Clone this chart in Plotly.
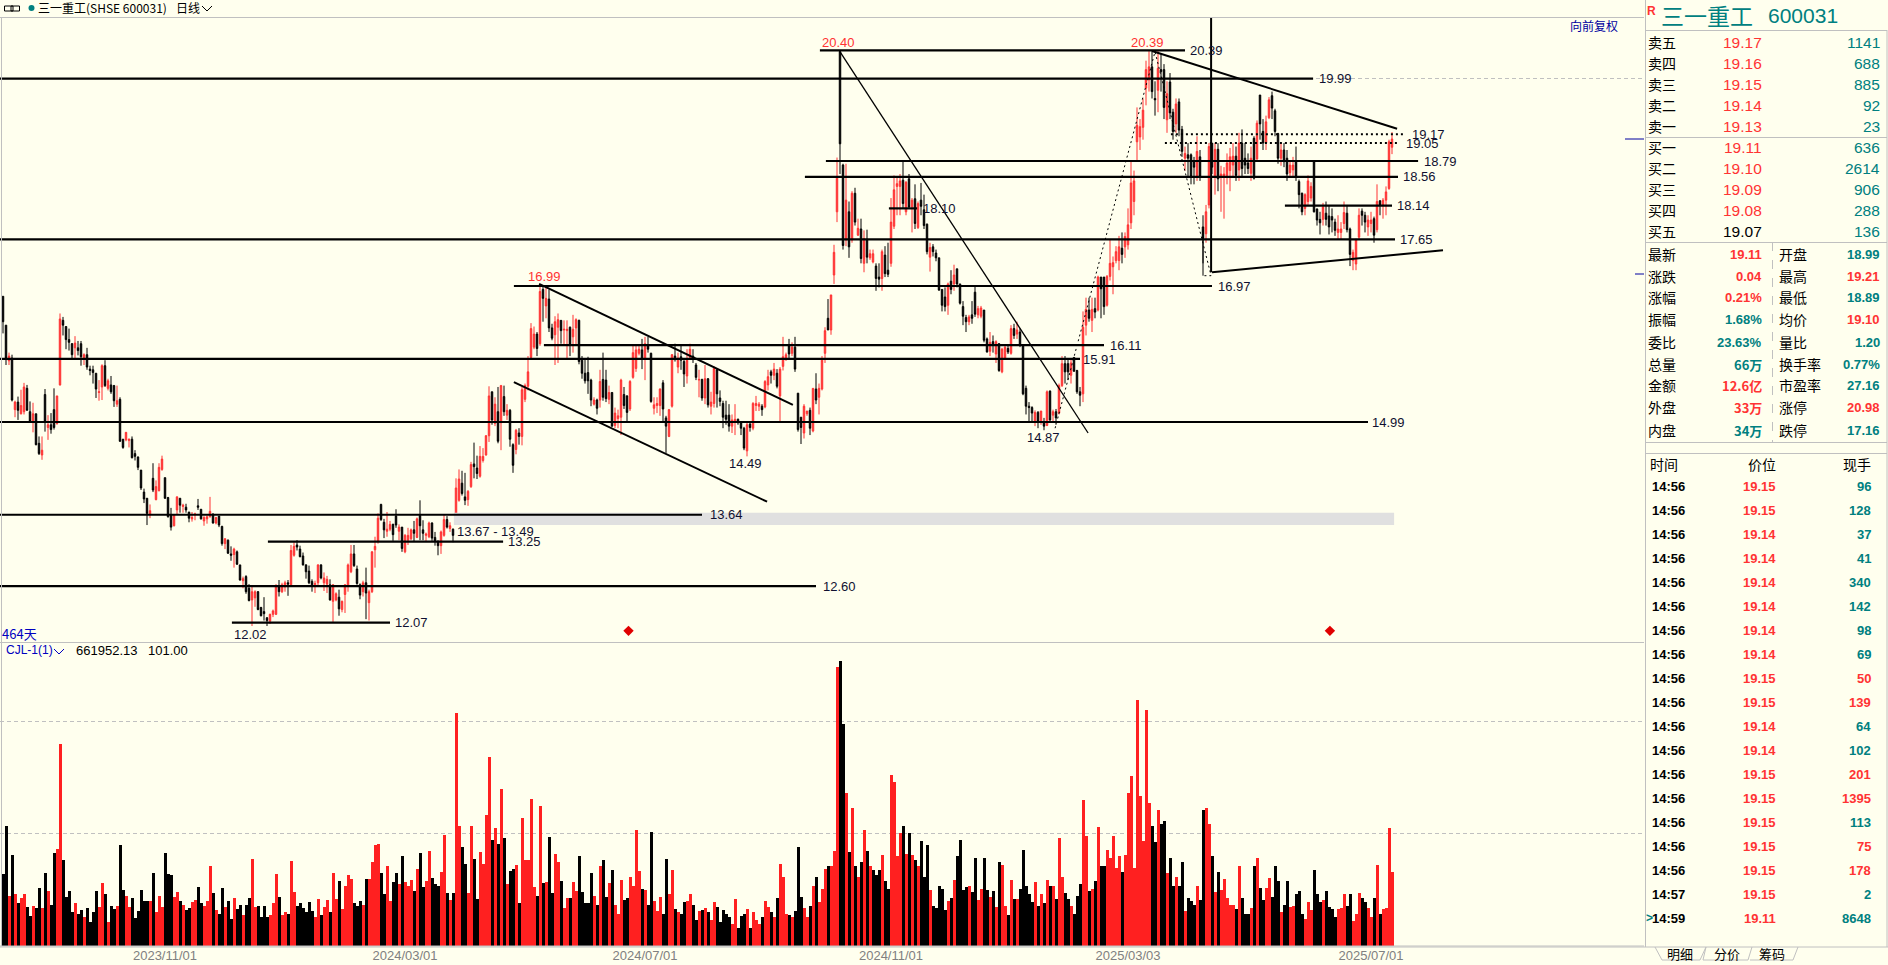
import plotly.graph_objects as go

W, H = 1888, 965
BG = "#FFFFEE"
RED = "#FF3333"
TEAL = "#008080"
GRAY = "#C0C0C0"
CJK = "Noto Sans CJK SC"
LAT = "Liberation Sans"

opens = [
16.82,16.40,15.88,15.92,15.17,15.28,15.11,15.14,15.48,15.14,14.99,15.11,14.68,14.51,15.39,14.91,14.95,15.17,14.97,15.53,
16.47,16.38,16.19,16.13,16.07,16.07,16.13,15.92,15.97,15.76,15.75,15.70,15.42,15.50,15.81,15.48,15.53,15.52,15.25,15.32,
14.74,14.73,14.72,14.74,14.53,14.48,14.29,13.97,13.88,13.64,14.17,13.86,13.99,14.30,14.18,13.89,13.64,13.48,13.71,13.88,
13.76,13.75,13.68,13.58,13.64,13.77,13.72,13.55,13.58,13.61,13.65,13.52,13.62,13.47,13.22,13.27,13.07,13.06,13.10,12.91,
12.68,12.74,12.57,12.40,12.43,12.52,12.29,12.23,12.14,12.09,12.19,12.19,12.59,12.52,12.59,12.65,12.62,13.05,13.20,13.14,
13.04,12.91,12.82,12.67,12.62,12.65,12.91,12.65,12.63,12.62,12.38,12.40,12.44,12.26,12.48,12.60,12.81,13.07,12.85,12.62,
12.52,12.65,12.36,12.52,13.13,13.26,13.79,13.53,13.40,13.43,13.50,13.62,13.40,13.46,13.10,13.27,13.29,13.42,13.31,13.63,
13.42,13.34,13.32,13.52,13.31,13.25,13.19,13.34,13.57,13.44,13.43,13.65,13.85,14.10,13.90,13.86,14.05,14.38,14.32,14.20,
14.43,14.51,14.79,15.43,14.97,15.14,14.98,15.36,15.09,15.16,14.66,14.59,14.83,14.78,15.32,15.51,15.93,16.08,16.27,16.13,
16.92,16.68,16.78,16.36,16.26,16.37,16.47,16.33,16.32,16.37,16.23,16.36,16.47,15.89,15.70,15.71,15.60,15.25,15.31,15.31,
15.61,15.60,15.32,15.42,14.94,15.04,15.06,15.39,15.37,15.18,15.64,15.77,15.99,16.04,15.90,16.11,15.99,15.19,15.23,15.23,
15.56,15.05,14.78,15.22,15.95,15.79,15.94,15.87,15.66,15.93,15.95,15.82,15.60,15.61,15.34,15.62,15.22,15.26,15.75,15.34,
15.26,15.09,15.09,14.93,15.00,15.03,14.98,14.90,14.57,14.96,14.90,15.23,15.22,15.22,15.21,15.53,15.72,15.67,15.70,15.37,
15.80,15.92,16.10,15.99,16.08,15.41,15.06,14.83,15.11,15.16,14.86,15.47,15.35,15.47,15.99,16.50,16.33,17.13,18.05,20.38,
18.73,17.64,18.05,17.64,18.32,17.71,17.80,17.30,17.65,17.38,17.32,17.26,17.10,17.08,17.42,17.20,17.30,17.84,18.42,18.42,
18.51,18.05,18.53,18.12,18.24,17.82,18.22,18.08,17.87,17.39,17.54,17.45,17.38,16.92,16.81,16.69,17.04,17.00,17.22,17.00,
16.67,16.51,16.45,16.55,16.88,16.55,16.53,16.62,16.20,16.02,16.16,15.98,16.13,15.72,15.92,16.06,15.99,16.35,16.27,16.30,
16.11,15.48,15.22,15.20,15.00,15.13,15.00,14.99,14.94,15.44,15.09,15.14,15.12,15.52,15.84,15.84,15.67,15.93,15.74,15.43,
15.40,16.40,16.62,16.47,16.64,16.62,17.10,17.10,16.69,17.11,17.25,17.34,17.34,17.52,17.54,17.57,17.89,18.20,19.07,19.14,
19.28,19.85,19.97,20.16,19.70,19.82,20.12,20.12,19.39,19.94,19.50,19.33,19.65,19.25,18.83,18.88,18.88,18.78,18.55,18.85,
17.83,17.73,18.15,19.05,18.56,18.96,18.55,18.56,18.58,18.65,18.73,18.86,18.66,19.05,18.83,18.76,18.61,19.12,18.82,19.75,
19.22,19.05,19.42,19.74,19.52,19.19,18.83,18.95,18.83,18.62,18.66,18.78,18.49,18.32,18.10,18.20,18.25,18.78,18.09,17.94,
17.94,18.03,17.99,17.98,17.90,17.75,17.75,17.88,18.03,17.80,17.34,17.29,17.68,18.06,18.00,17.83,17.88,17.95,17.79,18.21,
18.15,18.22,18.39,18.99]

closes = [
16.45,15.92,15.95,15.31,15.28,15.16,15.23,15.50,15.16,15.00,15.11,14.66,14.53,14.58,15.00,14.95,14.88,14.91,15.37,16.49,
16.40,16.19,16.15,15.97,16.14,16.03,15.94,15.97,15.79,15.74,15.71,15.47,15.43,15.81,15.52,15.59,15.43,15.30,15.30,14.71,
14.62,14.84,14.74,14.47,14.49,14.33,14.03,13.87,13.66,13.70,14.00,14.05,14.33,14.45,13.88,13.61,13.46,13.64,13.90,13.78,
13.78,13.71,13.59,13.60,13.65,13.75,13.58,13.60,13.61,13.69,13.52,13.60,13.49,13.22,13.29,13.08,13.05,13.14,12.92,12.69,
12.71,12.52,12.39,12.52,12.52,12.26,12.17,12.20,12.10,12.19,12.24,12.60,12.52,12.62,12.65,12.63,13.12,13.18,13.17,13.03,
12.91,12.81,12.65,12.62,12.64,12.91,12.72,12.72,12.70,12.40,12.62,12.49,12.27,12.38,12.62,12.91,13.07,12.90,12.64,12.47,
12.65,12.50,12.52,13.10,13.18,13.59,13.57,13.42,13.43,13.50,13.35,13.49,13.46,13.15,13.34,13.34,13.42,13.37,13.58,13.48,
13.37,13.36,13.52,13.30,13.26,13.19,13.39,13.57,13.46,13.48,13.34,14.03,14.16,13.95,13.85,13.98,14.37,14.34,14.24,14.49,
14.49,14.79,15.37,15.02,15.25,14.71,15.52,15.14,15.16,14.74,14.36,14.87,14.78,15.46,15.52,15.72,16.35,16.27,16.06,16.89,
16.79,16.79,16.36,16.21,16.45,16.48,16.32,16.34,16.34,16.11,16.34,16.48,15.87,15.70,15.59,15.59,15.31,15.31,15.19,15.58,
15.35,15.33,15.42,14.93,15.12,15.08,15.60,15.23,15.13,15.58,16.00,16.04,16.05,15.90,16.13,16.05,15.29,15.24,15.26,15.47,
15.18,14.93,15.17,15.97,15.90,15.92,15.89,15.69,15.89,16.05,15.92,15.64,15.61,15.34,15.62,15.24,15.28,15.77,15.40,15.29,
15.06,15.03,14.93,15.02,15.03,14.98,14.90,14.61,14.95,14.91,15.26,15.26,15.25,15.17,15.58,15.65,15.67,15.76,15.51,15.76,
15.94,15.97,15.98,16.08,15.76,14.88,14.91,15.22,15.15,14.90,15.48,15.31,15.48,15.89,16.32,16.33,16.84,17.46,18.54,19.04,
17.56,18.22,17.54,18.32,17.90,17.81,17.37,17.66,17.39,17.44,17.44,17.08,17.07,17.47,17.15,17.14,17.90,18.37,18.46,18.50,
18.17,18.48,18.12,18.22,17.88,18.17,18.13,17.85,17.47,17.53,17.47,17.38,16.91,16.69,16.67,17.00,16.92,17.13,17.00,16.72,
16.53,16.45,16.52,16.50,16.56,16.64,16.65,16.18,16.01,16.15,16.11,16.16,15.74,16.05,16.08,16.01,16.35,16.25,16.33,16.11,
15.40,15.22,15.20,15.12,15.13,14.99,15.15,14.93,15.43,15.02,15.14,15.05,15.52,15.84,15.72,15.72,15.85,15.73,15.43,15.38,
16.37,16.63,16.50,16.63,16.59,17.10,16.93,16.67,17.11,17.30,17.31,17.47,17.54,17.43,17.69,17.86,18.47,18.50,19.31,19.29,
19.53,20.12,20.16,19.80,19.68,20.14,20.09,19.57,19.77,19.49,19.22,19.62,19.24,18.93,18.90,18.83,18.56,18.70,18.93,18.56,
17.66,18.05,19.00,18.70,18.96,18.53,18.60,18.60,18.76,18.85,18.86,18.58,19.05,18.68,18.73,18.68,18.83,18.54,19.34,19.33,
19.05,19.36,19.68,19.56,19.22,18.83,18.95,18.78,18.60,18.73,18.73,18.56,18.30,18.05,18.30,18.50,18.42,18.05,17.93,17.89,
18.12,17.94,17.83,17.93,17.78,17.80,17.80,18.04,17.79,17.43,17.46,17.64,18.00,18.00,17.90,17.93,17.93,17.71,18.20,18.15,
18.22,18.34,19.07,19.11]

highs = [
16.82,16.40,16.00,15.97,15.30,15.36,15.46,15.56,15.53,15.29,15.27,15.11,14.78,14.78,15.47,15.09,15.12,15.48,15.37,16.57,
16.52,16.38,16.35,16.14,16.24,16.17,16.17,15.99,16.07,15.81,15.81,15.70,15.60,15.83,15.89,15.62,15.66,15.53,15.52,15.35,
14.74,14.84,14.75,14.78,14.58,14.49,14.29,14.02,13.88,13.79,14.39,14.14,14.39,14.50,14.18,13.90,13.74,13.64,13.91,13.88,
13.80,13.80,13.68,13.68,13.67,13.87,13.72,13.62,13.63,13.90,13.66,13.61,13.62,13.48,13.30,13.28,13.18,13.16,13.12,12.91,
12.74,12.76,12.63,12.60,12.54,12.53,12.30,12.44,12.15,12.20,12.26,12.63,12.69,12.65,12.68,12.69,13.20,13.24,13.27,13.19,
13.09,12.92,12.90,12.70,12.68,12.92,12.92,12.80,12.75,12.70,12.63,12.51,12.55,12.39,12.63,12.93,13.20,13.20,12.90,12.64,
12.68,12.87,12.55,13.11,13.32,13.66,13.80,13.58,13.68,13.55,13.51,13.72,13.50,13.46,13.36,13.45,13.44,13.55,13.60,13.85,
13.56,13.38,13.54,13.53,13.39,13.27,13.41,13.65,13.62,13.53,13.44,14.17,14.30,14.28,14.25,14.00,14.41,14.69,14.50,14.64,
14.61,14.80,15.51,15.43,15.35,15.50,15.53,15.52,15.25,15.18,14.68,14.89,14.90,15.50,15.55,15.95,16.43,16.38,16.30,16.99,
16.98,16.96,16.92,16.42,16.53,16.57,16.47,16.47,16.47,16.38,16.55,16.50,16.48,15.95,15.91,15.94,15.62,15.35,15.33,15.75,
16.00,15.75,15.52,15.42,15.20,15.17,15.62,15.50,15.38,15.60,16.12,16.10,16.12,16.20,16.23,16.23,16.00,15.35,15.35,15.48,
15.60,15.08,15.18,15.98,16.13,16.00,16.10,15.90,16.05,16.13,16.05,15.85,15.75,15.62,15.82,15.63,15.43,15.80,15.76,15.45,
15.30,15.30,15.25,15.10,15.25,15.04,15.00,14.92,14.98,15.00,15.28,15.37,15.28,15.25,15.60,15.75,15.75,15.85,15.76,15.79,
16.23,16.00,16.20,16.15,16.23,15.41,15.06,15.25,15.15,15.20,15.48,15.70,15.55,15.95,16.37,16.78,16.84,17.57,18.84,20.40,
18.75,18.75,18.20,18.35,18.40,17.95,17.95,17.78,17.79,17.50,17.50,17.30,17.30,17.50,17.55,17.60,18.25,18.58,18.55,18.60,
18.79,18.50,18.60,18.25,18.45,18.20,18.47,18.30,17.88,17.60,17.58,17.50,17.38,16.92,16.95,17.02,17.20,17.28,17.22,17.00,
16.75,16.55,16.55,16.75,16.97,16.68,16.68,16.62,16.22,16.30,16.25,16.18,16.14,16.07,16.10,16.10,16.40,16.42,16.45,16.35,
16.11,15.52,15.28,15.22,15.16,15.15,15.15,15.05,15.45,15.45,15.17,15.18,15.55,15.95,15.95,15.90,15.92,15.93,15.75,15.50,
16.60,16.80,16.80,16.80,16.80,17.12,17.10,17.10,17.13,17.65,17.40,17.55,17.70,17.75,17.75,18.10,18.80,18.65,19.57,19.40,
19.70,20.25,20.39,20.39,19.95,20.39,20.36,20.20,19.95,20.07,19.55,19.70,19.70,19.30,19.00,19.05,18.90,18.85,19.15,18.95,
18.00,18.15,19.05,19.05,19.05,19.05,18.72,18.70,18.90,18.98,19.05,19.00,19.20,19.25,19.05,18.90,19.00,19.15,19.38,19.75,
19.40,19.45,19.72,19.80,19.55,19.20,19.05,19.05,18.95,18.80,18.85,19.00,18.52,18.33,18.32,18.58,18.48,18.78,18.10,18.05,
18.18,18.20,18.15,18.10,17.95,18.00,17.90,18.20,18.15,17.82,17.50,17.66,18.10,18.10,18.05,18.00,18.05,17.98,18.45,18.22,
18.25,18.42,19.10,19.21]

lows = [
16.28,15.82,15.82,15.29,15.06,15.02,15.10,15.10,15.16,14.98,14.84,14.65,14.51,14.44,14.85,14.73,14.82,14.88,14.95,15.52,
16.25,16.05,16.03,15.92,15.92,15.96,15.81,15.82,15.75,15.67,15.55,15.34,15.30,15.31,15.50,15.45,15.40,15.21,15.21,14.70,
14.60,14.71,14.62,14.46,14.43,14.29,14.00,13.81,13.49,13.59,13.97,13.85,13.98,14.28,13.87,13.60,13.41,13.47,13.64,13.67,
13.67,13.67,13.53,13.54,13.56,13.71,13.57,13.48,13.51,13.60,13.51,13.50,13.46,13.19,13.14,13.07,12.97,12.87,12.91,12.68,
12.57,12.49,12.38,12.02,12.30,12.25,12.16,12.10,12.02,12.05,12.15,12.18,12.45,12.50,12.52,12.46,12.60,13.03,13.12,13.02,
12.90,12.71,12.63,12.52,12.50,12.60,12.70,12.53,12.50,12.39,12.08,12.38,12.17,12.22,12.21,12.52,12.79,12.88,12.62,12.41,
12.45,12.12,12.10,12.50,12.87,13.22,13.55,13.30,13.32,13.40,13.26,13.45,13.27,13.10,13.08,13.20,13.27,13.25,13.30,13.27,
13.27,13.25,13.30,13.26,13.19,13.05,13.07,13.32,13.44,13.39,13.24,13.62,13.83,13.92,13.78,13.77,14.03,14.17,14.16,14.18,
14.40,14.50,14.70,14.95,14.93,14.68,14.58,15.08,15.02,14.63,14.25,14.52,14.66,14.65,15.28,15.45,15.90,16.05,15.95,16.10,
16.45,16.50,16.30,16.18,15.82,15.85,16.13,16.10,15.90,15.95,16.00,16.12,15.83,15.62,15.55,15.40,15.22,15.23,15.10,15.20,
15.30,15.28,15.25,14.92,14.90,14.90,14.80,15.18,15.00,15.15,15.62,15.72,15.96,15.76,15.60,16.00,15.27,15.10,15.12,15.08,
15.00,14.54,14.77,15.20,15.87,15.70,15.75,15.50,15.55,15.90,15.85,15.60,15.35,15.30,15.25,15.20,15.10,15.20,15.20,15.22,
14.90,14.95,14.85,14.83,14.80,14.95,14.80,14.58,14.49,14.85,14.87,15.15,15.15,15.08,15.19,15.45,15.55,15.60,15.48,14.99,
15.74,15.88,15.90,15.95,15.72,14.85,14.67,14.75,15.08,14.80,14.84,15.25,15.10,15.45,15.85,16.33,16.26,17.00,17.90,18.60,
17.50,17.55,17.38,17.60,17.85,17.70,17.30,17.17,17.30,17.35,17.30,16.90,16.95,16.90,17.10,17.10,17.25,17.80,18.00,18.00,
18.10,18.00,18.10,17.75,17.80,17.80,18.00,17.80,17.43,17.18,17.40,17.33,16.90,16.60,16.60,16.55,16.85,16.90,16.95,16.70,
16.40,16.30,16.40,16.42,16.52,16.50,16.50,16.15,16.00,15.95,16.00,15.85,15.72,15.70,15.90,15.98,15.97,16.20,16.20,16.08,
15.38,15.10,15.00,15.00,14.93,14.90,14.95,14.87,14.93,15.00,15.00,14.95,15.10,15.50,15.55,15.60,15.55,15.72,15.40,15.22,
15.28,16.25,16.45,16.30,16.50,16.60,16.50,16.55,16.67,17.05,16.85,17.30,17.20,17.30,17.38,17.50,17.80,18.00,18.80,18.95,
19.10,19.60,19.80,19.70,19.45,19.50,19.80,19.40,19.20,19.40,19.10,19.20,19.15,18.85,18.65,18.55,18.45,18.45,18.50,18.50,
17.30,17.60,18.10,18.60,18.30,18.35,18.05,17.95,18.45,18.35,18.55,18.50,18.50,18.55,18.60,18.60,18.50,18.52,18.80,19.10,
18.95,18.95,19.40,19.40,19.15,18.75,18.72,18.70,18.50,18.55,18.55,18.50,18.10,18.00,18.00,18.15,18.20,18.04,17.85,17.72,
17.85,17.85,17.72,17.75,17.70,17.65,17.65,17.80,17.75,17.26,17.20,17.20,17.65,17.85,17.75,17.70,17.75,17.60,17.75,18.00,
17.95,18.00,18.37,18.89]

# volume, in units of 10,000 lots
volumes = [
64,107,45,81,46,38,43,46,35,27,36,34,52,34,65,49,37,83,87,180,
77,44,49,30,38,29,32,26,34,21,30,49,35,56,46,21,36,33,36,90,
50,45,35,43,25,31,50,40,40,40,65,30,45,35,83,64,63,44,48,40,
37,32,34,39,41,53,38,36,40,71,47,32,29,52,35,40,24,43,33,37,
28,37,43,78,35,36,26,36,26,28,38,64,44,28,30,29,76,48,36,38,
34,30,39,31,26,42,28,35,41,30,65,42,58,33,54,63,60,38,36,40,
37,60,60,75,90,91,65,46,71,40,57,65,55,80,57,54,59,49,69,83,
53,58,85,61,55,54,66,99,47,41,47,208,107,88,73,47,107,78,42,84,
73,117,169,95,105,91,140,96,55,67,69,72,38,114,77,77,131,53,45,125,
56,57,97,47,82,75,58,34,43,43,57,49,80,48,38,38,65,45,37,71,
77,44,56,68,37,29,59,41,43,62,54,104,67,51,50,37,102,40,31,44,
29,78,46,68,33,30,29,39,40,46,37,23,31,32,34,30,23,39,35,21,
32,29,26,20,42,16,27,29,33,16,30,23,20,26,40,35,30,26,43,73,
62,29,28,26,31,88,44,34,26,36,54,62,39,51,69,71,71,85,249,254,
198,137,84,123,71,62,75,104,85,71,68,63,68,81,58,51,153,146,80,101,
107,82,101,81,77,71,94,62,90,50,36,34,54,51,32,40,43,59,80,95,
50,53,54,48,79,41,51,79,50,44,49,35,75,72,36,28,59,42,42,51,
86,54,46,39,57,36,46,38,59,54,54,42,96,62,47,42,36,29,45,55,
130,98,49,51,58,106,71,71,86,79,98,70,80,66,81,137,152,70,220,134,
94,211,128,107,93,121,109,112,65,79,54,62,54,75,31,43,40,37,54,41,
121,123,109,80,48,66,50,60,43,37,37,33,71,43,29,29,34,71,79,52,
41,52,61,44,71,58,30,37,58,35,36,46,49,29,24,39,32,68,46,39,
41,49,35,33,26,33,34,46,36,46,22,29,47,43,39,34,26,43,72,29,
33,34,105,66]

volume_dirs = (
"bbrbrbrrbbrbbrbrbbrr" "bbbbrbbrbbbbrrbrbbrb" "brrbbbbbbrbrrrbbbrrb" "rbbrrbbrrrbrbbrbbrbb"
"rbbrrbbbbrrrbrrbrrbb" "bbbbrrbrrbrrbrrrrbbb" "rbrrrrbbrrbbrbrrrbrb" "brrbbbrrbrbrrbbrrbbr"
"rrrbrbrbrbbrbrrrrrbr" "brbbrrbrrbrrbbbbbrbr" "bbrbrrrbbrrrrbrbbrrr" "bbrrbrbbrrbbrbrbrrbb"
"bbbrrbbbrbrrrbrrbrbr" "rrbrbbbrrbrbrrrbrrrb" "brbrbrbrbrbbbrbbrrrr" "brbrbrbbbrbbbbbrbrbb"
"bbrbbrrbbrbrbrrbrbrb" "bbbbrbrbrbrbrrbbrbbb" "rrbrbrbbrrrrrbrrrrrr" "rrrbbrbbrbbrbbrbbbrb"
"brrbrbrrrrrbrbbbrbrb" "brrbbbrbbrrbbbrrrbbb" "rbbbbrrrbbrrrbbrrbrb" "rrrr")

dates = ["2023/11/01", "2024/03/01", "2024/07/01", "2024/11/01", "2025/03/03", "2025/07/01"]
date_bars = [54, 134, 214, 296, 375, 456]

# Support / resistance levels: price, first bar, last bar, label, label column (px)
level_prices = [20.40, 19.99, 18.79, 18.56, 18.14, 17.65, 16.97, 16.11, 15.91, 14.99, 13.64, 13.25, 12.60, 12.07, 18.10]
level_start = [272.3, -1, 274.3, 267.3, 427.3, -1, 170.3, 180.3, -1, -1, -1, 88.3, -1, 76.3, 295.3]
level_end = [394, 436.7, 471.7, 465, 463, 464, 403, 367, 359, 455, 233, 166.7, 271, 129, 304.7]
level_labels = ["20.39", "19.99", "18.79", "18.56", "18.14", "17.65", "16.97", "16.11", "15.91", "14.99", "13.64", "13.25", "12.60", "12.07", "18.10"]
level_label_px = [1190, 1319, 1424, 1403, 1397, 1400, 1218, 1110, 1083, 1372, 710, 508, 823, 395, 923]

# Trend lines: [bar0, bar1], [price0, price1], width
trend_bars = [[278.7, 361.7], [383, 464.7], [403, 480], [178.7, 263.3], [170.3, 254.7], [402.7, 402.7], [400, 400]]
trend_prices = [[20.40, 14.83], [20.39, 19.26], [17.17, 17.49], [17.00, 15.24], [15.57, 13.83], [20.88, 17.17], [17.79, 17.12]]
trend_widths = [1.3, 2, 2, 2, 2, 2, 1]

zigzag_bars = [350.7, 384, 402.7, 400]
zigzag_prices = [14.90, 20.38, 17.12, 17.12]

dotted_prices = [19.18, 19.05]
dotted_start = [389.3, 387.3]
dotted_end = [467.3, 465.3]
dotted_labels = ["19.17", "19.05"]
dotted_label_px = [1412, 1406]

zone_bars = [150.3, 463.7]
zone_low, zone_high = 13.49, 13.67
diamond_bars = [208.5, 442.3]
diamond_prices = [11.95, 11.95]

# Right panel
book_names = ["卖五", "卖四", "卖三", "卖二", "卖一", "买一", "买二", "买三", "买四", "买五"]
book_prices = ["19.17", "19.16", "19.15", "19.14", "19.13", "19.11", "19.10", "19.09", "19.08", "19.07"]
book_sizes = ["1141", "688", "885", "92", "23", "636", "2614", "906", "288", "136"]

stat_left = ["最新", "涨跌", "涨幅", "振幅", "委比", "总量", "金额", "外盘", "内盘"]
stat_left_v = ["19.11", "0.04", "0.21%", "1.68%", "23.63%", "66万", "12.6亿", "33万", "34万"]
stat_left_c = "rrrttt" "rrt"
stat_right = ["开盘", "最高", "最低", "均价", "量比", "换手率", "市盈率", "涨停", "跌停"]
stat_right_v = ["18.99", "19.21", "18.89", "19.10", "1.20", "0.77%", "27.16", "20.98", "17.16"]
stat_right_c = "trtrtttrt"
stat_y = [255, 277, 298, 320, 343, 365, 386, 408, 431]

tick_times = ["14:56"] * 17 + ["14:57", "14:59"]
tick_prices = ["19.15", "19.15", "19.14", "19.14", "19.14", "19.14", "19.14", "19.14", "19.15", "19.15",
               "19.14", "19.14", "19.15", "19.15", "19.15", "19.15", "19.15", "19.15", "19.11"]
tick_sizes = ["96", "128", "37", "41", "340", "142", "98", "69", "50", "139", "64", "102", "201", "1395", "113", "75", "178", "2", "8648"]
tick_dirs = "ttttttttrrttrrtrrtt"

n = len(closes)
bars = list(range(n))

PX_TOP, PX_MID, PX_BOT, PX_RIGHT = 17, 643, 946, 1644


def fx(px):
    return px / W


def fy(px):
    return 1 - px / H


price_range = [11.773, 20.886]
vol_range = [0, 270.5]

fig = go.Figure()

fig.add_trace(go.Candlestick(
    x=bars, open=opens, high=highs, low=lows, close=closes, xaxis="x", yaxis="y",
    increasing=dict(line=dict(color=RED, width=1), fillcolor=RED),
    decreasing=dict(line=dict(color="#000000", width=1), fillcolor="#000000"),
    whiskerwidth=0, hoverinfo="skip", showlegend=False))

fig.add_trace(go.Bar(
    x=bars, y=volumes, xaxis="x", yaxis="y2", showlegend=False, hoverinfo="skip",
    marker=dict(color=["#FF2020" if d == "r" else "#000000" for d in volume_dirs], line=dict(width=0)),
    width=[1.0] * n))

# grey zone
fig.add_trace(go.Scatter(
    x=[zone_bars[0], zone_bars[1], zone_bars[1], zone_bars[0], zone_bars[0]],
    y=[zone_low, zone_low, zone_high, zone_high, zone_low],
    fill="toself", fillcolor="#E0E0E0", mode="none", xaxis="x", yaxis="y", showlegend=False, hoverinfo="skip"))

for p, a, b in zip(level_prices, level_start, level_end):
    fig.add_trace(go.Scatter(x=[a, b], y=[p, p], mode="lines", line=dict(color="#000000", width=2.2),
                             xaxis="x", yaxis="y", showlegend=False, hoverinfo="skip"))
for bx, py, w in zip(trend_bars, trend_prices, trend_widths):
    fig.add_trace(go.Scatter(x=bx, y=py, mode="lines", line=dict(color="#000000", width=w),
                             xaxis="x", yaxis="y", showlegend=False, hoverinfo="skip"))
fig.add_trace(go.Scatter(x=zigzag_bars, y=zigzag_prices, mode="lines", line=dict(color="#000000", width=1, dash="2px,3px"),
                         xaxis="x", yaxis="y", showlegend=False, hoverinfo="skip"))
for p, a, b in zip(dotted_prices, dotted_start, dotted_end):
    fig.add_trace(go.Scatter(x=[a, b], y=[p, p], mode="lines", line=dict(color="#000000", width=2, dash="2px,3px"),
                             xaxis="x", yaxis="y", showlegend=False, hoverinfo="skip"))
fig.add_trace(go.Scatter(x=diamond_bars, y=diamond_prices, mode="markers",
                         marker=dict(symbol="diamond", size=8, color="#E00000"),
                         xaxis="x", yaxis="y", showlegend=False, hoverinfo="skip"))

ann = []


def txt(px, py, s, color="#000000", size=13, anchor="left", font=LAT, bold=False):
    ann.append(dict(x=fx(px), y=fy(py - 0.8), xref="paper", yref="paper", text=f"<b>{s}</b>" if bold else s,
                    showarrow=False, xanchor=anchor, yanchor="middle", align=anchor, borderpad=0, borderwidth=0,
                    xshift=0, yshift=0, font=dict(family=font, size=size, color=color)))


PX_PER_PRICE = (PX_MID - PX_TOP) / (price_range[1] - price_range[0])


def price_y(p):
    return PX_TOP + (price_range[1] - p) * PX_PER_PRICE


for p, lab, px in zip(level_prices, level_labels, level_label_px):
    txt(px, price_y(p) + 1, lab, "#101030")
for p, lab, px in zip(dotted_prices, dotted_labels, dotted_label_px):
    txt(px, price_y(p) + 1, lab, "#101030")

txt(822, 43, "20.40", RED)
txt(1131, 43, "20.39", RED)
txt(528, 277, "16.99", RED)
txt(234, 635, "12.02", "#101030")
txt(729, 464, "14.49", "#101030")
txt(1027, 438, "14.87", "#101030")
txt(457, 532, "13.67 - 13.49", "#101030")
txt(2, 634, "464天", "#0000C0", 13, font=CJK)
txt(6, 651, "CJL-1(1)", "#0000C0", 12)
txt(76, 651, "661952.13", "#000000", 13)
txt(148, 651, "101.00", "#000000", 13)
txt(1570, 26, "向前复权", "#0000A0", 12, font=CJK)

txt(38, 8, "三一重工(SHSE 600031)", "#000000", 12, font=CJK)
txt(176, 8, "日线", "#000000", 12, font=CJK)

# right panel text
txt(1647, 12, "R", RED, 12, bold=True)
txt(1661, 16, "三一重工", TEAL, 23, font=CJK)
txt(1768, 16, "600031", TEAL, 21)
for i, (a, b, c) in enumerate(zip(book_names, book_prices, book_sizes)):
    y = 43 + 21 * i
    txt(1648, y, a, "#000000", 14, font=CJK)
    txt(1762, y, b, "#000000" if b == "19.07" else RED, 15.5, "right")
    txt(1880, y, c, TEAL, 15.5, "right")
col = {"r": RED, "t": TEAL}
for y, a, b, c, d, e, f in zip(stat_y, stat_left, stat_left_v, stat_left_c, stat_right, stat_right_v, stat_right_c):
    txt(1648, y, a, "#000000", 14, font=CJK)
    txt(1762, y, b, col[c], 13, "right", font=CJK if b[-1] in "万亿" else LAT, bold=True)
    txt(1779, y, d, "#000000", 14, font=CJK)
    txt(1880, y, e, col[f], 13, "right", bold=True)
txt(1664, 465, "时间", "#000000", 14, "center", CJK)
txt(1762, 465, "价位", "#000000", 14, "center", CJK)
txt(1857, 465, "现手", "#000000", 14, "center", CJK)
for i, (a, b, c, d) in enumerate(zip(tick_times, tick_prices, tick_sizes, tick_dirs)):
    y = 487 + 24 * i
    txt(1652, y, a, "#000000", 13, bold=True)
    txt(1776, y, b, RED, 13, "right", bold=True)
    txt(1871, y, c, col[d], 13, "right", bold=True)
txt(1646, 919, "&gt;", TEAL, 12, bold=True)
txt(1680, 954, "明细", "#000000", 13, "center", CJK)
txt(1727, 954, "分价", "#000000", 13, "center", CJK)
txt(1772, 954, "筹码", "#000000", 13, "center", CJK)

shapes = []


def seg(x0, y0, x1, y1, color=GRAY, width=1, dash="solid"):
    shapes.append(dict(type="line", xref="paper", yref="paper", x0=fx(x0), y0=fy(y0), x1=fx(x1), y1=fy(y1),
                       line=dict(color=color, width=width, dash=dash), layer="above"))


seg(0, 17.5, PX_RIGHT, 17.5)
seg(1.5, 17, 1.5, 946)
seg(0, 642.5, PX_RIGHT, 642.5)
seg(0, 946, PX_RIGHT, 946)
seg(1645.5, 0, 1645.5, 947)
seg(1887, 30, 1887, 947)
for y in [30, 137, 242, 442, 453]:
    seg(1646, y + 0.5, 1887, y + 0.5)
seg(1772.5, 242, 1772.5, 442, GRAY, 1, "dash")
seg(1625, 139, 1644, 139, "#0000A0")
seg(1635, 274, 1644, 274, "#0000A0")
# tabs
seg(0, 947, 1888, 947)
seg(1655, 947, 1662, 960)
seg(1662, 960, 1700, 960)
seg(1700, 960, 1706, 947)
seg(1706, 947, 1703, 960)
seg(1703, 960, 1748, 960)
seg(1748, 960, 1752, 947)
seg(1750, 960, 1793, 960)
seg(1793, 960, 1798, 947)
# top bar icons
shapes.append(dict(type="circle", xref="paper", yref="paper", x0=fx(28.5), x1=fx(34.5), y0=fy(11), y1=fy(5),
                   fillcolor=TEAL, line=dict(width=0)))
shapes.append(dict(type="rect", xref="paper", yref="paper", x0=fx(4.5), x1=fx(13), y0=fy(11), y1=fy(6),
                   fillcolor="rgba(0,0,0,0)", line=dict(color="#000000", width=1)))
shapes.append(dict(type="rect", xref="paper", yref="paper", x0=fx(11), x1=fx(19.5), y0=fy(11), y1=fy(6),
                   fillcolor="rgba(0,0,0,0)", line=dict(color="#000000", width=1)))
seg(202, 6, 207, 11, "#000000")
seg(207, 11, 212, 6, "#000000")
seg(54, 649, 59, 654, "#0000C0")
seg(59, 654, 64, 649, "#0000C0")

fig.update_layout(
    width=W, height=H, margin=dict(l=0, r=0, t=0, b=0, pad=0), autosize=False,
    paper_bgcolor=BG, plot_bgcolor=BG, showlegend=False, bargap=0, dragmode=False,
    annotations=ann, shapes=shapes,
    xaxis=dict(domain=[0, PX_RIGHT / W], range=[-1, (PX_RIGHT - 3) / 3], anchor="y2", rangeslider=dict(visible=False),
               showgrid=False, zeroline=False, showline=False, ticks="", fixedrange=True,
               tickmode="array", tickvals=date_bars, ticktext=dates, tickangle=0,
               tickfont=dict(family=LAT, size=13, color="#808080")),
    yaxis=dict(domain=[fy(PX_MID), fy(PX_TOP)], range=price_range, anchor="x", showticklabels=False, ticks="",
               showline=False, zeroline=False, fixedrange=True, tickmode="array", tickvals=[19.99],
               showgrid=True, gridcolor=GRAY, griddash="4px,3px", gridwidth=1),
    yaxis2=dict(domain=[fy(PX_BOT), fy(PX_MID)], range=vol_range, anchor="x", showticklabels=False, ticks="",
                showline=False, zeroline=False, fixedrange=True, tickmode="array", tickvals=[100, 200],
                showgrid=True, gridcolor=GRAY, griddash="4px,3px", gridwidth=1),
)

fig.write_html("out.html", config=dict(displayModeBar=False),
               post_script="document.body.style.margin='0';document.documentElement.style.overflow='hidden';")
